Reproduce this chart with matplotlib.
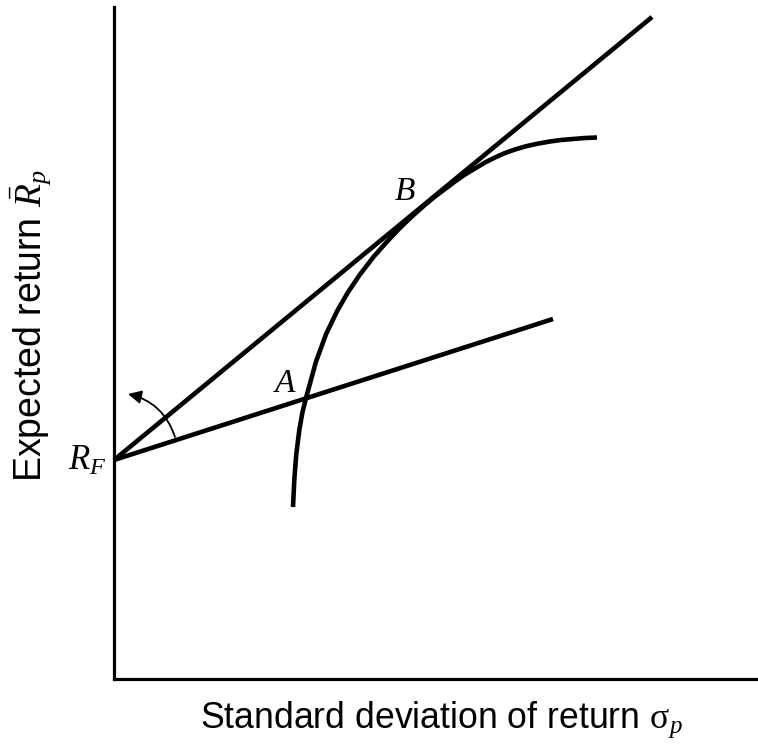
"""Capital market line sketch: tangency of the risk-free line with the efficient frontier."""

import matplotlib

matplotlib.use("Agg")
import matplotlib.pyplot as plt
from matplotlib.patches import FancyArrowPatch

# risk-free intercept and the two lines drawn from it (sigma, expected return)
RF_POINT = (0.0, 219.0)
LINE_B_END = (538.0, 662.0)
LINE_A_END = (439.0, 360.0)

# efficient frontier
FRONTIER_SIGMA = [
    179.0, 180.3, 182.2, 185.3, 188.5, 192.0, 202.0, 212.0, 223.0, 234.0,
    246.0, 260.0, 273.0, 286.0, 298.0, 311.0, 321.0, 331.0, 341.0, 351.0,
    361.0, 371.0, 381.0, 391.0, 401.0, 411.0, 423.0, 436.0, 447.0, 459.0,
    471.0, 483.0,
]
FRONTIER_RETURN = [
    172.0, 199.0, 224.0, 249.0, 267.0, 281.0, 317.4, 344.7, 367.7, 386.8,
    404.6, 422.7, 437.4, 451.1, 462.6, 474.2, 482.5, 490.0, 497.5, 504.5,
    510.5, 516.5, 521.5, 526.0, 529.5, 532.5, 535.2, 537.5, 539.0, 540.0,
    541.0, 541.5,
]

# point labels
LABELS = {"A": (171.0, 287.0), "B": (291.0, 479.0)}
ARROW_FROM = (61.0, 242.0)
ARROW_TO = (14.0, 285.0)

plt.rcParams.update(
    {
        "font.family": ["Liberation Sans", "DejaVu Sans"],
        "mathtext.fontset": "custom",
        "mathtext.rm": "Liberation Serif",
        "mathtext.it": "Liberation Serif:italic",
    }
)

W, H = 758, 747
fig = plt.figure(figsize=(W / 100, H / 100), dpi=100)
ax = fig.add_axes([114 / W, (H - 679) / H, (W - 114) / W, 672 / H])
ax.set_xlim(0, 644)
ax.set_ylim(0, 672)
for side in ("top", "right"):
    ax.spines[side].set_visible(False)
for side in ("left", "bottom"):
    ax.spines[side].set_linewidth(2.3)
ax.set_xticks([])
ax.set_yticks([])

lw = 3.3
ax.plot(
    [RF_POINT[0], LINE_B_END[0]], [RF_POINT[1], LINE_B_END[1]],
    color="black", linewidth=lw, solid_capstyle="butt", clip_on=False,
)
ax.plot(
    [RF_POINT[0], LINE_A_END[0]], [RF_POINT[1], LINE_A_END[1]],
    color="black", linewidth=lw, solid_capstyle="butt", clip_on=False,
)
ax.plot(
    FRONTIER_SIGMA, FRONTIER_RETURN,
    color="black", linewidth=lw, solid_capstyle="butt", solid_joinstyle="round",
)

arrow = FancyArrowPatch(
    ARROW_FROM, ARROW_TO,
    connectionstyle="arc3,rad=0.28",
    arrowstyle="-|>,head_length=8,head_width=4",
    color="black", linewidth=1.3, shrinkA=0, shrinkB=0,
)
ax.add_patch(arrow)

for name, (x, y) in LABELS.items():
    ax.text(x, y, f"${name}$", fontsize=24, ha="center", va="baseline")
ax.text(-8, 209, "$R_F$", fontsize=25, ha="right", va="baseline", clip_on=False)

fig.text(
    441 / W, (H - 728) / H, r"Standard deviation of return $\mathrm{\sigma}_{p}$",
    fontsize=25.7, ha="center", va="baseline",
)
fig.text(
    31 / W, (H - 326) / H, r"Expected return $\bar{R}_{p}$",
    fontsize=27, ha="center", va="center", rotation=90,
)

fig.savefig("out.png", dpi=100)
